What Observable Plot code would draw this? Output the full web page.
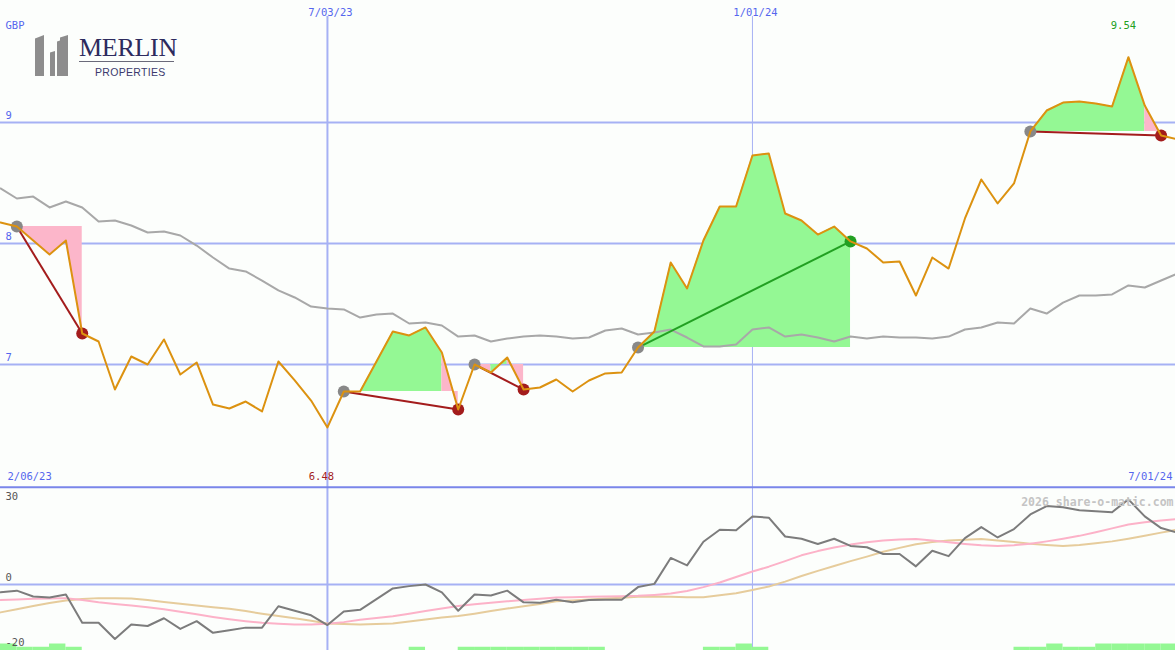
<!DOCTYPE html>
<html><head><meta charset="utf-8">
<script src="https://cdn.jsdelivr.net/npm/d3@7"></script>
<script src="https://cdn.jsdelivr.net/npm/@observablehq/plot@0.6"></script>
<style>
html,body{margin:0;padding:0;background:#fcfefc;}
#chart{position:relative;width:1175px;height:650px;overflow:hidden;background:#fcfefc;}
#chart svg.plot, #chart svg{display:block;}
#logo{position:absolute;left:0;top:0;}
</style></head><body>
<div id="chart"></div>
<script>
// ---------- data ----------
const currency = "GBP";
const price = [8.174,8.140,8.025,7.909,8.025,7.256,7.190,6.793,7.066,7.000,
  7.207,6.917,7.017,6.669,6.636,6.694,6.612,7.025,6.868,6.702,
  6.480,6.777,6.777,7.025,7.273,7.240,7.306,7.099,6.628,7.000,
  6.934,7.058,6.793,6.810,6.876,6.777,6.868,6.926,6.934,7.140,
  7.273,7.843,7.628,8.025,8.306,8.306,8.727,8.744,8.248,8.190,
  8.074,8.140,8.017,7.959,7.843,7.851,7.570,7.884,7.793,8.207,
  8.529,8.331,8.496,8.926,9.099,9.165,9.174,9.157,9.132,9.540,
  9.140,8.893,8.860];
const movingAvg = [8.455,8.372,8.388,8.298,8.347,8.298,8.182,8.190,8.149,8.091,
  8.099,8.066,7.983,7.884,7.793,7.769,7.694,7.612,7.554,7.479,
  7.463,7.455,7.388,7.413,7.421,7.339,7.347,7.322,7.231,7.240,
  7.190,7.215,7.231,7.240,7.231,7.215,7.223,7.281,7.298,7.248,
  7.264,7.289,7.223,7.149,7.149,7.165,7.289,7.306,7.231,7.248,
  7.223,7.190,7.231,7.215,7.231,7.223,7.223,7.215,7.231,7.289,
  7.306,7.347,7.339,7.463,7.421,7.512,7.570,7.570,7.579,7.653,
  7.636,7.694,7.752];
const momentum = [-2.4,-1.9,-3.7,-4.0,-3.1,-11.8,-11.8,-16.8,-12.3,-12.8,
  -10.4,-13.7,-11.3,-14.9,-14.1,-13.3,-13.3,-6.7,-8.1,-9.5,
  -12.5,-8.3,-7.8,-4.5,-1.2,-0.5,0.0,-2.4,-8.1,-3.1,
  -3.4,-1.9,-5.5,-5.6,-4.7,-5.5,-4.8,-4.7,-4.7,-0.8,
  0.2,8.2,5.9,13.2,16.9,16.7,21.0,20.6,14.8,14.1,
  12.5,14.1,11.9,11.5,9.4,9.4,5.6,10.4,8.75,14.3,
  17.7,14.5,17.1,21.6,24.2,23.8,22.9,22.6,22.3,26.25,
  21.0,17.4,16.0];
const signalFast = [-4.8,-4.6,-4.4,-4.3,-4.2,-4.8,-5.5,-6.0,-6.5,-7.0,
  -7.6,-8.4,-9.2,-10.0,-10.7,-11.3,-11.8,-12.1,-12.3,-12.3,
  -12.1,-11.6,-10.9,-10.3,-9.8,-9.0,-8.2,-7.4,-6.6,-6.1,
  -5.6,-5.2,-4.8,-4.4,-4.0,-3.9,-3.8,-3.7,-3.6,-3.5,
  -3.2,-2.8,-2.0,-0.8,0.6,2.3,4.0,5.5,7.2,9.0,
  10.3,11.4,12.3,13.0,13.6,13.9,14.0,13.6,13.0,12.5,
  12.1,11.9,12.1,12.6,13.3,14.1,15.0,16.1,17.3,18.5,
  19.2,19.7,20.2];
const signalSlow = [-8.6,-7.6,-6.6,-5.7,-4.9,-4.5,-4.2,-4.2,-4.3,-4.8,
  -5.4,-5.9,-6.5,-7.0,-7.5,-8.2,-9.0,-9.7,-10.4,-11.2,
  -12.0,-12.2,-12.3,-12.2,-12.0,-11.4,-10.8,-10.2,-9.7,-9.0,
  -8.2,-7.4,-6.7,-6.0,-5.2,-4.9,-4.6,-4.3,-4.1,-3.8,
  -3.7,-3.8,-3.9,-3.9,-3.3,-2.7,-1.7,-0.6,0.9,2.6,
  4.2,5.7,7.2,8.6,10.1,11.3,12.4,13.1,13.6,13.8,
  14.0,13.6,13.1,12.6,12.2,11.9,12.2,12.7,13.3,14.1,
  15.0,16.0,16.9];
const tradeEntryWeek = [1, 21, 29, 39, 63];
const tradeExitWeek  = [5, 28, 32, 52, 71];
const signalBarWeek  = [0,1,2,3,4,25,28,29,30,31,32,33,34,35,36,43,44,45,46,62,63,64,65,66,67,68,69,70,71];
const signalBarLevel = [2,1,1,2,1,1,1,1,1,1,1,1,1,1,1,1,1,2,1,1,1,2,1,1,2,2,2,2,2];
const priceTicks = [9, 8, 7];
const oscTopTick = [30];
const oscTicks = [0, -20];
const midYearTicks = ["2023-07-03"];
const yearTicks = ["2024-01-01"];
const dateTickLabels = {"2023-07-03": "7/03/23", "2024-01-01": "1/01/24"};
const rangeLabels = ["2/06/23", "7/01/24"];
const watermark = "2026 share-o-matic.com";

// ---------- derived ----------
const weekMs = 7 * 24 * 3600 * 1000;
const t0 = Date.UTC(2023, 1, 13);
const dates = price.map((_, i) => new Date(t0 + i * weekMs));
const xDomain = [dates[0], new Date(t0 + 71.88 * weekMs)];
const series = dates.map((date, i) => ({date, price: price[i], ma: movingAvg[i],
  mom: momentum[i], fast: signalFast[i], slow: signalSlow[i]}));

const GREEN_FILL = "#94f894", PINK_FILL = "#fcb6ca";
const WIN = "#22a022", LOSS = "#a31c1c";
const BLUE_TXT = "#5566ee", GRID = "#a6b1f4";

const trades = tradeEntryWeek.map((e, t) => {
  const x = tradeExitWeek[t];
  return {entry: e, exit: x, d0: dates[e], d1: dates[x], p0: price[e], p1: price[x], win: price[x] > price[e]};
});
// fill between entry level and price; runs of same-colour weeks merged into one polygon
const fillRows = [];
trades.forEach((tr, t) => {
  let run = -1, prevC = null;
  for (let i = tr.entry; i < tr.exit; i++) {
    const c = price[i + 1] >= tr.p0 ? GREEN_FILL : PINK_FILL;
    if (c !== prevC) {
      run++;
      fillRows.push({seg: t + "-" + run, date: dates[i], base: tr.p0, p: price[i], c});
      prevC = c;
    }
    fillRows.push({seg: t + "-" + run, date: dates[i + 1], base: tr.p0, p: price[i + 1], c});
  }
});
const maxI = d3.maxIndex(price), minI = d3.minIndex(price);
const fmt = d3.format(".2f");
const parse = s => new Date(s + "T00:00:00Z");

const baseStyle = {background: "#fcfefc", fontFamily: "DejaVu Sans Mono, monospace", fontSize: "10.5px"};

// ---------- top panel ----------
const topPanel = Plot.plot({
  width: 1175, height: 486, margin: 0,
  x: {type: "utc", domain: xDomain, range: [0, 1175], axis: null},
  y: {domain: [5.9917, 10.0083], range: [486, 0], axis: null},
  color: {type: "identity"},
  style: baseStyle,
  marks: [
    Plot.ruleY(priceTicks, {y: d => d, stroke: GRID, strokeWidth: 2}),
    Plot.ruleX(midYearTicks, {x: parse, stroke: GRID, strokeWidth: 2, insetTop: 16}),
    Plot.ruleX(yearTicks, {x: parse, stroke: GRID, strokeWidth: 1, insetTop: 16}),
    Plot.area(fillRows, {x1: "date", y1: "base", y2: "p", z: "seg", fill: "c"}),
    Plot.line(series, {x: "date", y: "ma", stroke: "#a8a8a8", strokeWidth: 2}),
    Plot.link(trades, {x1: "d0", y1: "p0", x2: "d1", y2: "p1", stroke: d => d.win ? WIN : LOSS, strokeWidth: 2}),
    Plot.dot(trades, {x: "d0", y: "p0", r: 6, fill: "#888888"}),
    Plot.dot(trades, {x: "d1", y: "p1", r: 6, fill: d => d.win ? WIN : LOSS}),
    Plot.line(series, {x: "date", y: "price", stroke: "#dc9210", strokeWidth: 2}),
    Plot.text(priceTicks, {y: d => d, text: d => String(d), frameAnchor: "left", dx: 5, dy: -6.5, textAnchor: "start", fill: BLUE_TXT}),
    Plot.text([currency], {text: d => d, frameAnchor: "top-left", dx: 5, dy: 21, textAnchor: "start", fill: BLUE_TXT}),
    Plot.text(midYearTicks.concat(yearTicks), {x: parse, text: d => dateTickLabels[d], frameAnchor: "top", dy: 8.5, dx: 3, fill: BLUE_TXT}),
    Plot.text([maxI], {x: i => dates[i], text: i => fmt(price[i]), frameAnchor: "top", dy: 21, dx: -5, fill: WIN}),
    Plot.text([minI], {x: i => dates[i], text: i => fmt(price[i]), frameAnchor: "bottom", dy: -7, dx: -6, fill: LOSS}),
    Plot.text([rangeLabels[0]], {text: d => d, frameAnchor: "bottom-left", dx: 7, dy: -7, textAnchor: "start", fill: BLUE_TXT}),
    Plot.text([rangeLabels[1]], {text: d => d, frameAnchor: "bottom-right", dx: -3, dy: -7, textAnchor: "end", fill: BLUE_TXT})
  ]
});

// ---------- bottom panel ----------
const oscDomain = [-20.35, 30.22];
const bars = signalBarWeek.map((k, j) => ({d0: dates[k], d1: new Date(+dates[k] + weekMs), lvl: signalBarLevel[j]}));
const bottomPanel = Plot.plot({
  width: 1175, height: 164, margin: 0,
  x: {type: "utc", domain: xDomain, range: [0, 1175], axis: null},
  y: {domain: oscDomain, range: [164, 0], axis: null},
  color: {type: "identity"},
  style: baseStyle,
  marks: [
    Plot.ruleY([0], {stroke: GRID, strokeWidth: 2}),
    Plot.ruleX(midYearTicks, {x: parse, stroke: GRID, strokeWidth: 2}),
    Plot.ruleX(yearTicks, {x: parse, stroke: GRID, strokeWidth: 1}),
    Plot.rectY(bars, {x1: "d0", x2: "d1", y1: oscDomain[0], y2: d => oscDomain[0] + d.lvl, fill: "#94f894"}),
    Plot.line(series, {x: "date", y: "slow", stroke: "#e6cc9c", strokeWidth: 2}),
    Plot.line(series, {x: "date", y: "fast", stroke: "#fcb2c8", strokeWidth: 2}),
    Plot.line(series, {x: "date", y: "mom", stroke: "#7c7c7c", strokeWidth: 2}),
    Plot.ruleY(oscTopTick, {y: d => d, stroke: "#7a86ea", strokeWidth: 2}),
    Plot.text(oscTopTick, {y: d => d, text: d => String(d), frameAnchor: "left", dx: 5, dy: 9, textAnchor: "start", fill: "#555"}),
    Plot.text(oscTicks, {y: d => d, text: d => String(d), frameAnchor: "left", dx: 5, dy: -6.5, textAnchor: "start", fill: "#555"}),
    Plot.text([watermark], {text: d => d, frameAnchor: "top-right", dx: -2, dy: 11, textAnchor: "end", fill: "#c4c4c4", fontWeight: "bold", fontSize: 11.5})
  ]
});

const chart = document.getElementById("chart");
chart.appendChild(topPanel);
chart.appendChild(bottomPanel);

// logo (decorative)
const logo = document.createElement("div");
logo.id = "logo";
logo.innerHTML = `<svg width="220" height="95" xmlns="http://www.w3.org/2000/svg">
  <polygon points="35,38.5 44,35 44,76 35,76" fill="#8d8d8d"/>
  <polygon points="50,52.5 55,51 55,76 50,76" fill="#8d8d8d"/>
  <polygon points="57,41.5 60,40.5 60,37.5 68,35 68,76 57,76" fill="#8d8d8d"/>
  <text x="79" y="56" font-family="Liberation Serif, DejaVu Serif, serif" font-size="26" letter-spacing="-0.3" fill="#2d2b5e">MERLIN</text>
  <line x1="79" y1="61.5" x2="174" y2="61.5" stroke="#6a6a7a" stroke-width="1"/>
  <text x="95" y="76" font-family="Liberation Sans, DejaVu Sans, sans-serif" font-size="10.5" letter-spacing="0.3" fill="#3b3a6e">PROPERTIES</text>
</svg>`;
chart.appendChild(logo);
</script>
</body></html>
